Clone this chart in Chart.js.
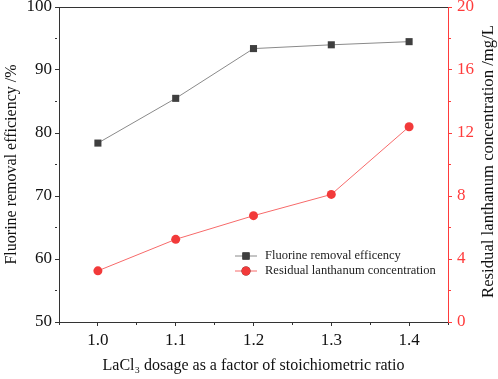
<!DOCTYPE html>
<html>
<head>
<meta charset="utf-8">
<script src="https://cdn.jsdelivr.net/npm/chart.js@4.4.1/dist/chart.umd.min.js"></script>
<style>
  html, body { margin: 0; padding: 0; background: #fff; }
  #wrap { width: 498px; height: 379px; }
</style>
</head>
<body>
<div id="wrap"><canvas id="doseChart" width="498" height="379"></canvas></div>
<script>
const dosage = [1.0, 1.1, 1.2, 1.3, 1.4];
const fluorineRemoval = [78.4, 85.5, 93.4, 94.0, 94.5];
const residualLanthanum = [3.25, 5.25, 6.75, 8.1, 12.4];
const leftTicks = [50, 60, 70, 80, 90, 100];
const rightTicks = [0, 4, 8, 12, 16, 20];

const FONT = "'Liberation Serif', 'Times New Roman', serif";
const AXIS = '#333333';
const RED = '#ff3b3b';

function isMajorX(v) {
    return Math.round(v * 100) % 10 === 0;
}

function minorDash(isMajor) {
    return isMajor ? [] : [2, 20];
}

// fix the plot box so it sits where the reference has it
function fixBox(w, h) {
    return s => {
        if (w !== null) s.width = w;
        if (h !== null) s.height = h;
        s.paddingTop = 0;
        s.paddingBottom = 0;
        s.paddingLeft = 0;
        s.paddingRight = 0;
    };
}

const legendInside = {
    id: 'legendInside',
    afterDatasetsDraw(chart) {
        const ctx = chart.ctx;
        const area = chart.chartArea;
        const x0 = area.left + 176;
        let y = area.top + 249;
        ctx.save();
        ctx.font = '12.5px ' + FONT;
        ctx.textBaseline = 'middle';
        chart.data.datasets.forEach(ds => {
            ctx.strokeStyle = ds.borderColor;
            ctx.lineWidth = 1;
            ctx.beginPath();
            ctx.moveTo(x0, y);
            ctx.lineTo(x0 + 22, y);
            ctx.stroke();
            Chart.helpers.drawPoint(ctx, {
                pointStyle: ds.pointStyle,
                radius: ds.pointRadius,
                borderWidth: 0
            }, x0 + 11, y);
            ctx.fillStyle = ds.pointBackgroundColor;
            ctx.fill();
            ctx.fillStyle = '#222';
            ctx.fillText(ds.label, x0 + 30, y);
            y += 15;
        });
        ctx.restore();
    }
};

const rightTitle = {
    id: 'rightTitle',
    afterDraw(chart) {
        const ctx = chart.ctx;
        const area = chart.chartArea;
        ctx.save();
        ctx.translate(489, (area.top + area.bottom) / 2 - 3);
        ctx.rotate(-Math.PI / 2);
        ctx.font = '16.7px ' + FONT;
        ctx.fillStyle = '#111';
        ctx.textAlign = 'center';
        ctx.textBaseline = 'middle';
        ctx.fillText('Residual lanthanum concentration /mg/L', 0, 0);
        ctx.restore();
    }
};

new Chart(document.getElementById('doseChart').getContext('2d'), {
    type: 'line',
    data: {
        datasets: [{
            label: 'Fluorine removal efficency',
            data: dosage.map((d, i) => ({ x: d, y: fluorineRemoval[i] })),
            yAxisID: 'y',
            borderColor: '#8a8a8a',
            borderWidth: 1,
            pointStyle: 'rect',
            pointRadius: 5,
            pointBackgroundColor: '#3f3f3f',
            pointBorderWidth: 0
        }, {
            label: 'Residual lanthanum concentration',
            data: dosage.map((d, i) => ({ x: d, y: residualLanthanum[i] })),
            yAxisID: 'y2',
            borderColor: '#f76a6a',
            borderWidth: 1,
            pointStyle: 'circle',
            pointRadius: 4.5,
            pointBackgroundColor: '#f23a3a',
            pointBorderWidth: 0
        }]
    },
    options: {
        responsive: false,
        animation: false,
        layout: { padding: 0 },
        plugins: {
            legend: { display: false },
            tooltip: { enabled: false }
        },
        scales: {
            x: {
                type: 'linear',
                position: 'bottom',
                min: 0.95,
                max: 1.45,
                afterFit: fixBox(null, 57),
                ticks: {
                    stepSize: 0.05,
                    autoSkip: false,
                    maxRotation: 0,
                    padding: 4,
                    color: '#111',
                    font: { family: FONT, size: 17 },
                    callback: v => isMajorX(v) ? v.toFixed(1) : ''
                },
                grid: {
                    drawOnChartArea: false,
                    tickLength: 4,
                    tickColor: AXIS,
                    tickBorderDash: c => minorDash(isMajorX(c.tick.value))
                },
                border: { color: AXIS, width: 1 },
                title: {
                    display: true,
                    text: 'LaCl\u2083 dosage as a factor of stoichiometric ratio',
                    color: '#111',
                    font: { family: FONT, size: 16 },
                    padding: { top: 6 }
                }
            },
            xTop: {
                type: 'linear',
                position: 'top',
                min: 0.95,
                max: 1.45,
                afterFit: fixBox(null, 7),
                ticks: { display: false },
                grid: { drawOnChartArea: false, drawTicks: false },
                border: { color: AXIS, width: 1 }
            },
            y: {
                position: 'left',
                min: 50,
                max: 100,
                afterFit: fixBox(59, null),
                ticks: {
                    stepSize: 5,
                    padding: 3,
                    color: '#111',
                    font: { family: FONT, size: 17 },
                    callback: v => leftTicks.includes(v) ? String(v) : ''
                },
                grid: {
                    drawOnChartArea: false,
                    tickLength: 4,
                    tickColor: AXIS,
                    tickBorderDash: c => minorDash(leftTicks.includes(c.tick.value))
                },
                border: { color: AXIS, width: 1 },
                title: {
                    display: true,
                    text: 'Fluorine removal efficiency /%',
                    color: '#111',
                    font: { family: FONT, size: 16 },
                    padding: { top: 2, bottom: 0 }
                }
            },
            y2: {
                position: 'right',
                min: 0,
                max: 20,
                afterFit: fixBox(50, null),
                ticks: {
                    stepSize: 2,
                    padding: 5,
                    color: RED,
                    font: { family: FONT, size: 17 },
                    callback: v => rightTicks.includes(v) ? String(v) : ''
                },
                grid: {
                    drawOnChartArea: false,
                    tickLength: 4,
                    tickColor: RED,
                    tickBorderDash: c => minorDash(rightTicks.includes(c.tick.value))
                },
                border: { color: RED, width: 1 }
            }
        }
    },
    plugins: [legendInside, rightTitle]
});
</script>
</body>
</html>
